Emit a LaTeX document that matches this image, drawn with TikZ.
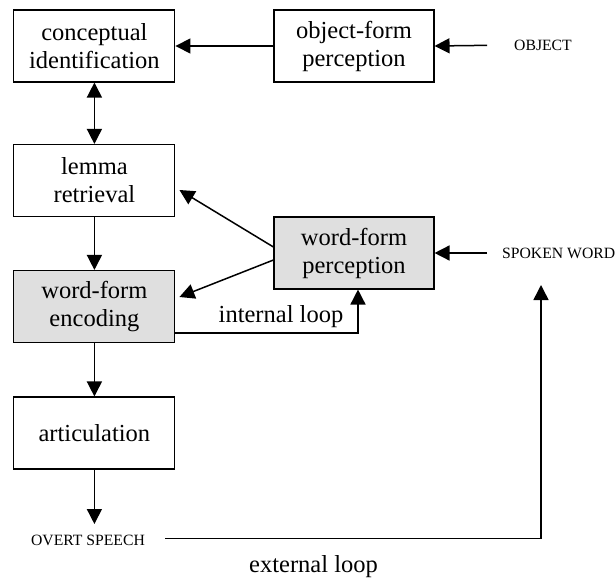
\documentclass[tikz,border=0pt]{standalone}
\usepackage{fontspec}
\setmainfont{Liberation Serif}
\usetikzlibrary{arrows.meta,positioning}

\begin{document}
\begin{tikzpicture}[
  x=1pt, y=-1pt,
  stage/.style={draw, rectangle, line width=1.1pt, minimum width=161pt, minimum height=72pt, align=center, font=\fontsize{24.5}{28}\selectfont},
  shadedstage/.style={stage, fill=gray!25},
  wire/.style={-{Triangle[length=15pt,width=15pt]}, line width=1.5pt},
  twoway/.style={{Triangle[length=15pt,width=15pt]}-{Triangle[length=15pt,width=15pt]}, line width=1.5pt},
  cue/.style={inner sep=0pt, font=\fontsize{15.7}{18}\selectfont},
  looplabel/.style={inner sep=0pt, font=\fontsize{24.5}{28}\selectfont}
]
\useasboundingbox (0,0) rectangle (616,580);

% Production side
\node[stage] (concept_id) at (94.4,46) {conceptual\\identification};
\node[stage] (lemma) at (94.4,180.5) {lemma\\retrieval};
\node[shadedstage] (wf_enc) at (94.4,306.5) {word-form\\encoding};
\node[stage] (artic) at (94.4,433) {articulation};
\node[cue, anchor=north, inner ysep=11pt] (overt) at (88,524) {OVERT SPEECH};

% Perception side
\node[stage, minimum width=160pt] (obj_form) at (354,46) {object-form\\perception};
\node[shadedstage, minimum width=160pt] (wf_perc) at (354,253) {word-form\\perception};
\node[cue, anchor=west] (obj_in) at (514,45) {OBJECT};
\node[cue, anchor=west] (spoken_in) at (502,253) {SPOKEN WORD};
\coordinate (ext_top) at (541,285);

\draw[wire] (obj_form) -- (concept_id);
\draw[wire, shorten <=27pt] (obj_in.west) -- (obj_form.east);
\draw[twoway] (concept_id) -- (lemma);
\draw[wire] (lemma) -- (wf_enc);
\draw[wire] (wf_enc) -- (artic);
\draw[wire] (artic.south) -- (artic.south |- overt.north);
\draw[wire] ([yshift=6pt]wf_perc.west) -- ([xshift=4pt,yshift=-9.5pt]lemma.east);
\draw[wire] ([yshift=-7pt]wf_perc.west) -- ([xshift=4pt,yshift=9.5pt]wf_enc.east);
\draw[wire, shorten <=15pt] (spoken_in.west) -- (wf_perc.east);

% Loops
\draw[wire] ([yshift=-26.5pt]wf_enc.east) -| ([xshift=4pt]wf_perc.south);
\node[looplabel] (int_loop) at (281,317) {internal loop};
\draw[wire, shorten <=20pt] ([yshift=2pt]overt.east) -| (ext_top);
\node[looplabel] (ext_loop) at (313.5,567) {external loop};

\end{tikzpicture}
\end{document}
